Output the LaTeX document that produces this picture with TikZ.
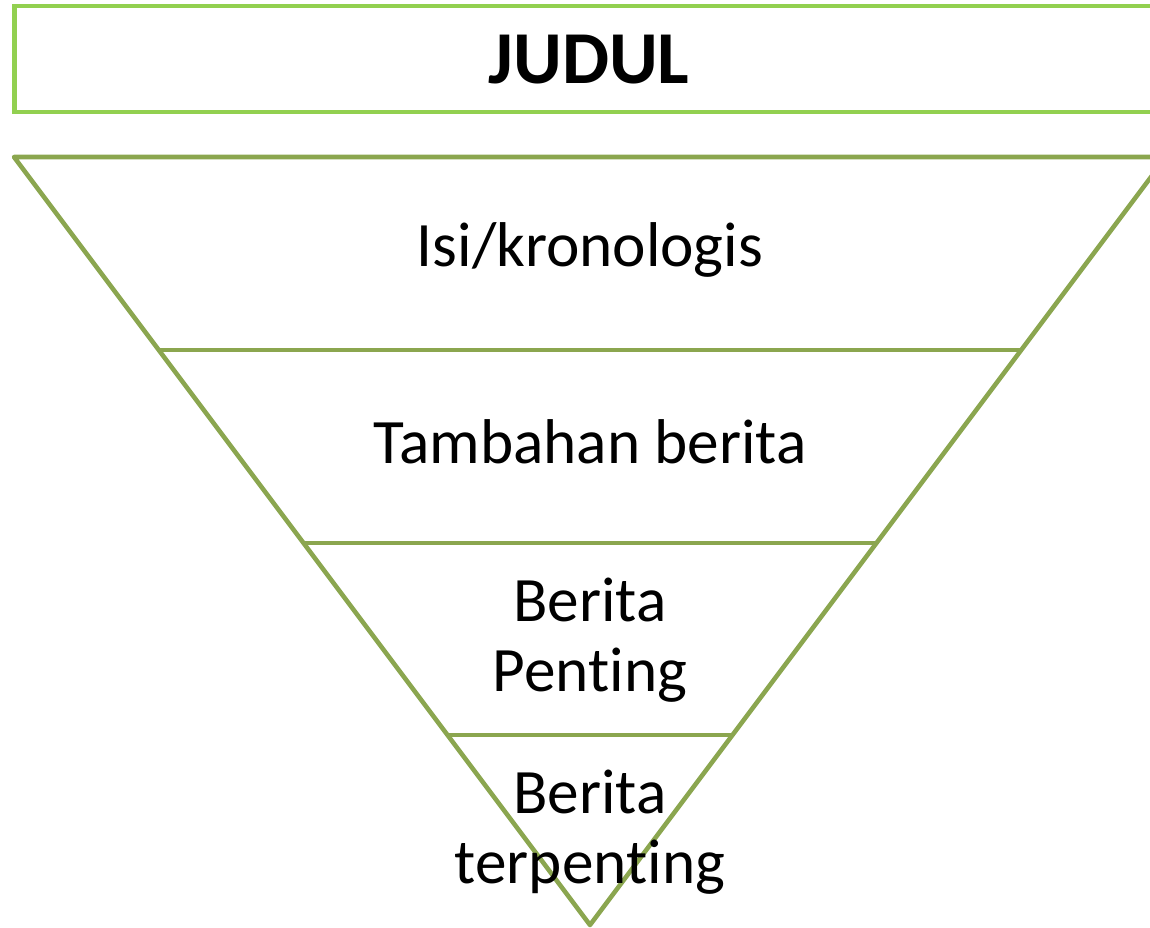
\documentclass[tikz,border=0pt]{standalone}
\usepackage{fontspec}
\setmainfont[Ligatures={NoCommon,NoContextual,NoRare}]{Carlito}
\definecolor{judulhijau}{HTML}{92D050}
\definecolor{piramidhijau}{HTML}{8BA64F}
\newcommand{\tpisah}{\mbox{t}}
\tikzset{
  kotak/.style={draw=judulhijau, line width=2.6pt},
  segitiga/.style={draw=piramidhijau, line width=2.6pt, line join=round},
  teks/.style={font=\fontsize{36pt}{39.7pt}\selectfont, align=center, inner sep=0pt}
}
\begin{document}
\begin{tikzpicture}[x=0.02cm, y=-0.02cm]
                \useasboundingbox (0,0) rectangle (1150,928);

                \coordinate (ka) at (14,157);
                \coordinate (kb) at (1166,157);
                \coordinate (puncak) at (590,925);
                \coordinate (l1) at (158.75,350);
                \coordinate (r1) at (1021.25,350);
                \coordinate (l2) at (303.5,543);
                \coordinate (r2) at (876.5,543);
                \coordinate (l3) at (447.5,735);
                \coordinate (r3) at (732.5,735);

                \draw[kotak] (14.5,6) rectangle (1165,112);
                \draw[segitiga] (ka) -- (kb) -- (puncak) -- cycle;
                \draw[segitiga] (l1) -- (r1);
                \draw[segitiga] (l2) -- (r2);
                \draw[segitiga] (l3) -- (r3);

                \node[teks, anchor=base, font=\fontsize{42.5pt}{49pt}\selectfont\bfseries] (judul) at (589,83.3) {JUDUL};
                \node[teks, anchor=base] (isi) at (590,266.7) {Isi/kronologis};
                \node[teks, anchor=base] (tambahan) at (590,463.3) {Tambahan berita};
                \node[teks, anchor=base] (penting) at (590,691.7) {Berita\\Pen\tpisah ing};
                \node[teks, anchor=base] (terpenting) at (590,883.3) {Berita\\terpen\tpisah ing};
            \end{tikzpicture}
\end{document}
